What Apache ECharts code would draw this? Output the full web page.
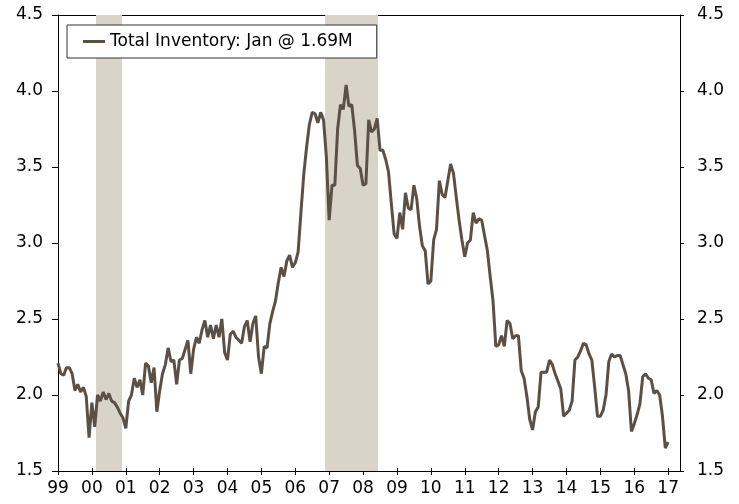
<!DOCTYPE html>
<html>
<head>
<meta charset="utf-8">
<script src="https://cdn.jsdelivr.net/npm/echarts@6/dist/echarts.min.js"></script>
<style>
html,body{margin:0;padding:0;background:#fff;}
#main{width:739px;height:504px;}
</style>
</head>
<body>
<div id="main"></div>
<script>
// monthly total inventory (millions), Jan 1999 .. Jan 2017
var y1999 = [2.21,2.14,2.13,2.18,2.18,2.14,2.03,2.07,2.02,2.05,1.99,1.72];
var y2000 = [1.95,1.79,2.00,1.96,2.02,1.97,2.01,1.96,1.95,1.92,1.88,1.85];
var y2001 = [1.78,1.96,2.00,2.11,2.05,2.10,2.00,2.21,2.19,2.08,2.18,1.89];
var y2002 = [2.03,2.14,2.20,2.31,2.22,2.23,2.07,2.23,2.24,2.30,2.36,2.14];
var y2003 = [2.30,2.38,2.34,2.43,2.49,2.38,2.46,2.37,2.46,2.38,2.50,2.28];
var y2004 = [2.23,2.40,2.42,2.38,2.36,2.34,2.45,2.49,2.35,2.47,2.52,2.25];
var y2005 = [2.14,2.32,2.31,2.47,2.55,2.62,2.74,2.84,2.78,2.88,2.92,2.84];
var y2006 = [2.87,2.94,3.20,3.45,3.63,3.78,3.86,3.85,3.79,3.86,3.81,3.57];
var y2007 = [3.15,3.38,3.38,3.75,3.91,3.88,4.04,3.90,3.91,3.74,3.51,3.49];
var y2008 = [3.38,3.39,3.81,3.73,3.75,3.82,3.61,3.61,3.55,3.47,3.26,3.06];
var y2009 = [3.03,3.20,3.09,3.33,3.23,3.22,3.38,3.29,3.11,2.98,2.95,2.73];
var y2010 = [2.75,3.02,3.09,3.41,3.32,3.30,3.41,3.52,3.46,3.30,3.15,3.02];
var y2011 = [2.91,3.00,3.02,3.20,3.13,3.16,3.15,3.05,2.95,2.78,2.62,2.32];
var y2012 = [2.33,2.39,2.32,2.49,2.47,2.37,2.39,2.39,2.16,2.11,1.99,1.84];
var y2013 = [1.77,1.89,1.92,2.15,2.15,2.15,2.23,2.20,2.14,2.09,2.04,1.86];
var y2014 = [1.88,1.90,1.96,2.23,2.25,2.29,2.34,2.33,2.27,2.23,2.05,1.86];
var y2015 = [1.86,1.90,2.00,2.22,2.27,2.25,2.26,2.26,2.20,2.14,2.03,1.76];
var y2016 = [1.81,1.87,1.94,2.12,2.14,2.11,2.10,2.01,2.03,2.00,1.86,1.65];
var y2017 = [1.69];

var startYear = 1999;
var yearTicks = [1999,2000,2001,2002,2003,2004,2005,2006,2007,2008,2009,2010,2011,2012,2013,2014,2015,2016,2017];
var shaded = [[2000.12,2000.89],[2006.88,2008.44]];
var seriesName = 'Total Inventory: Jan @ 1.69M';

var inventory = [].concat(y1999,y2000,y2001,y2002,y2003,y2004,y2005,y2006,y2007,y2008,
	y2009,y2010,y2011,y2012,y2013,y2014,y2015,y2016,y2017);
var points = [];
for(var i = 0;i < inventory.length;i ++){
	points.push([startYear + i/12, inventory[i]]);
}

var font = 'DejaVu Sans';
var fsize = 17;
var mychart = echarts.init(document.getElementById('main'));
mychart.setOption({
	animation:false,
	textStyle:{fontFamily:font},
	grid:{left:58,right:59,top:15,bottom:33},
	legend:{
		data:[seriesName],
		left:67,
		top:25,
		padding:[8,24,8,16],
		borderColor:'#333',
		borderWidth:1,
		backgroundColor:'#fff',
		icon:'rect',
		itemWidth:22,
		itemHeight:3,
		textStyle:{fontFamily:font,fontSize:fsize,color:'#000'}
	},
	xAxis:[
		{
			type:'value',
			min:1999,
			max:2017.35,
			interval:1,
			splitLine:{show:false},
			axisLine:{lineStyle:{color:'#000',width:1}},
			axisTick:{length:4,lineStyle:{color:'#000'},customValues:yearTicks},
			axisLabel:{
				margin:9,
				fontSize:fsize,
				color:'#000',
				fontFamily:font,
				customValues:yearTicks,
				formatter:function(v){
					var s = String(Math.round(v) % 100);
					return s.length < 2 ? '0' + s : s;
				}
			}
		},
		{
			type:'value',
			position:'top',
			min:1999,
			max:2017.35,
			splitLine:{show:false},
			axisLine:{show:true,lineStyle:{color:'#000',width:1}},
			axisTick:{show:false},
			axisLabel:{show:false}
		},
		{
			type:'value',
			position:'bottom',
			min:1999,
			max:2017.35,
			splitLine:{show:false},
			axisLine:{show:false},
			axisTick:{show:true,inside:true,length:3,lineStyle:{color:'#000'},customValues:yearTicks},
			axisLabel:{show:false}
		}
	],
	yAxis:[
		{
			type:'value',
			position:'left',
			min:1.5,
			max:4.5,
			interval:0.5,
			splitLine:{show:false},
			axisLine:{show:true,lineStyle:{color:'#000',width:1}},
			axisTick:{show:true,length:6,lineStyle:{color:'#000'}},
			axisLabel:{
				margin:15,
				fontSize:fsize,
				color:'#000',
				fontFamily:font,
				formatter:function(v){return v.toFixed(1);}
			}
		},
		{
			type:'value',
			position:'right',
			min:1.5,
			max:4.5,
			interval:0.5,
			splitLine:{show:false},
			axisLine:{show:true,lineStyle:{color:'#000',width:1}},
			axisTick:{show:true,length:4,lineStyle:{color:'#000'}},
			axisLabel:{
				margin:17,
				fontSize:fsize,
				color:'#000',
				fontFamily:font,
				formatter:function(v){return v.toFixed(1);}
			}
		}
	],
	series:[
		{
			name:seriesName,
			type:'line',
			xAxisIndex:0,
			yAxisIndex:0,
			data:points,
			showSymbol:false,
			symbol:'none',
			lineStyle:{color:'#5b5045',width:3},
			itemStyle:{color:'#5b5045'},
			markArea:{
				silent:true,
				itemStyle:{color:'#d8d4c8'},
				data:shaded.map(function(s){
					return [{xAxis:s[0]},{xAxis:s[1]}];
				})
			}
		}
	]
});
</script>
</body>
</html>
